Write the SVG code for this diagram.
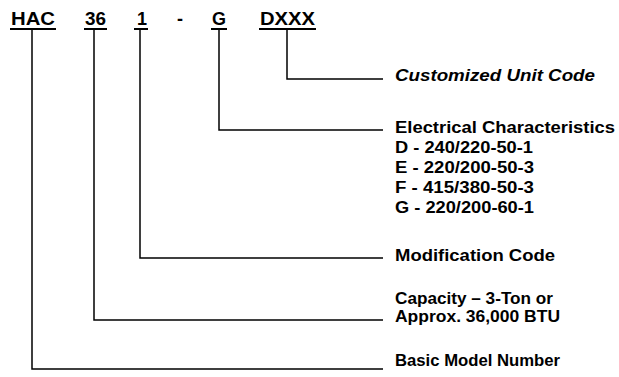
<svg xmlns="http://www.w3.org/2000/svg" width="619" height="377" viewBox="0 0 619 377">
<style>
.code{font-family:"Liberation Sans",Arial,sans-serif;font-weight:bold;font-size:18px;fill:#000}
.lbl{font-family:"Liberation Sans",Arial,sans-serif;font-weight:bold;font-size:16px;fill:#000}
.it{font-style:italic}
.ul{stroke:#000;stroke-width:2}
.con{fill:none;stroke:#000;stroke-width:1.5}
</style>
<rect width="619" height="377" fill="#fff"/>
<g id="code">
<text class="code" x="11" y="25" textLength="44" lengthAdjust="spacingAndGlyphs">HAC</text>
<text class="code" x="85" y="25" textLength="21" lengthAdjust="spacingAndGlyphs">36</text>
<text class="code" x="137" y="25">1</text>
<text class="code" x="177" y="25">-</text>
<text class="code" x="212" y="25">G</text>
<text class="code" x="260" y="25" textLength="55" lengthAdjust="spacingAndGlyphs">DXXX</text>
<line class="ul" x1="10" y1="29" x2="56" y2="29"/>
<line class="ul" x1="84" y1="29" x2="107" y2="29"/>
<line class="ul" x1="134" y1="29" x2="148" y2="29"/>
<line class="ul" x1="211" y1="29" x2="227" y2="29"/>
<line class="ul" x1="259" y1="29" x2="316" y2="29"/>
</g>
<g id="connectors">
<polyline class="con" points="287,30 287,79 383,79"/>
<polyline class="con" points="219,30 219,130 383,130"/>
<polyline class="con" points="140,30 140,258 383,258"/>
<polyline class="con" points="94,30 94,320 383,320"/>
<polyline class="con" points="32,30 32,369 383,369"/>
</g>
<g id="customized">
<text class="lbl it" x="395" y="81" textLength="200" lengthAdjust="spacingAndGlyphs">Customized Unit Code</text>
</g>
<g id="electrical">
<text class="lbl" x="395" y="133" textLength="220" lengthAdjust="spacingAndGlyphs">Electrical Characteristics</text>
<text class="lbl" x="395" y="153" textLength="138" lengthAdjust="spacingAndGlyphs">D - 240/220-50-1</text>
<text class="lbl" x="395" y="173" textLength="139" lengthAdjust="spacingAndGlyphs">E - 220/200-50-3</text>
<text class="lbl" x="395" y="193" textLength="139" lengthAdjust="spacingAndGlyphs">F - 415/380-50-3</text>
<text class="lbl" x="395" y="213" textLength="139" lengthAdjust="spacingAndGlyphs">G - 220/200-60-1</text>
</g>
<g id="modification">
<text class="lbl" x="395" y="261" textLength="160" lengthAdjust="spacingAndGlyphs">Modification Code</text>
</g>
<g id="capacity">
<text class="lbl" x="395" y="304" textLength="158" lengthAdjust="spacingAndGlyphs">Capacity – 3-Ton or</text>
<text class="lbl" x="395" y="322" textLength="165" lengthAdjust="spacingAndGlyphs">Approx. 36,000 BTU</text>
</g>
<g id="basic">
<text class="lbl" x="395" y="366" textLength="165" lengthAdjust="spacingAndGlyphs">Basic Model Number</text>
</g>
</svg>
